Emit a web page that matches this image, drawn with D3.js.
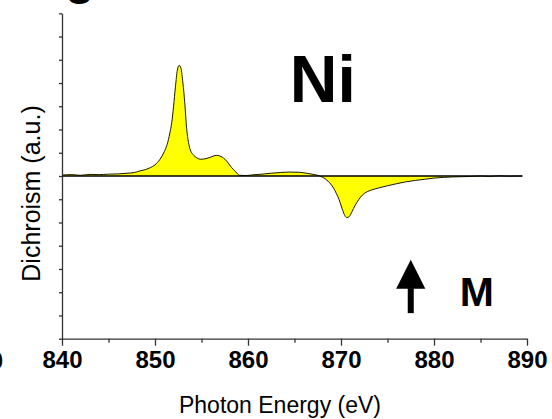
<!DOCTYPE html>
<html>
<head>
<meta charset="utf-8">
<script src="https://cdn.jsdelivr.net/npm/d3@7"></script>
<style>
  body { margin: 0; background: #fff; }
  svg { display: block; font-family: "Liberation Sans", Arial, sans-serif; }
</style>
</head>
<body>
<svg id="chart"></svg>
<script>
// photon energy (eV) and XMCD dichroism (a.u.)
const energy = [840.0, 841.0, 842.0, 843.0, 844.0, 845.0, 846.0, 847.0, 847.8, 848.4,
    849.0, 849.5, 850.0, 850.5, 851.0, 851.3, 851.6, 851.8, 852.0, 852.2,
    852.4, 852.6, 852.8, 853.0, 853.2, 853.4, 853.6, 853.8, 854.1, 854.5,
    854.9, 855.5, 856.1, 856.6, 857.1, 857.7, 858.2, 858.7, 859.1, 859.8,
    860.5, 861.5, 862.5, 863.5, 864.5, 865.5, 866.3, 867.0, 867.5, 867.9,
    868.3, 868.6, 868.9, 869.2, 869.5, 869.8, 870.1, 870.35, 870.6, 870.9,
    871.2, 871.5, 871.9, 872.3, 872.8, 873.3, 874.0, 875.0, 876.0, 877.0,
    878.0, 879.0, 880.0, 881.0, 882.0, 883.0, 884.0, 885.0, 886.0, 887.0,
    888.0, 889.5];
const dichroism = [0.04, 0.06, 0.03, 0.07, 0.06, 0.08, 0.09, 0.12, 0.15, 0.22,
    0.28, 0.36, 0.48, 0.70, 1.05, 1.35, 1.85, 2.30, 3.00, 3.85,
    4.55, 4.76, 4.62, 4.00, 3.15, 2.05, 1.45, 1.12, 0.92, 0.78,
    0.72, 0.75, 0.83, 0.89, 0.84, 0.65, 0.38, 0.17, 0.03, 0.02,
    0.05, 0.08, 0.12, 0.15, 0.17, 0.16, 0.12, 0.07, 0.03, -0.03,
    -0.12, -0.22, -0.35, -0.52, -0.75, -1.02, -1.38, -1.65, -1.79, -1.74,
    -1.52, -1.28, -1.02, -0.82, -0.68, -0.60, -0.52, -0.42, -0.33, -0.25,
    -0.19, -0.14, -0.09, -0.06, -0.04, -0.03, -0.02, 0.00, -0.02, 0.01,
    -0.01, 0.00];
const xTicks = [840, 850, 860, 870, 880, 890];
const xMinorTicks = [845, 855, 865, 875, 885];
const yTicks = d3.range(-7, 8, 1);

const width = 552;
const height = 419;
const margin = { top: 13.3, right: 25, bottom: 80.3, left: 62 };

const data = energy.map((e, i) => ({ e: e, v: dichroism[i] }));

const x = d3.scaleLinear().domain([840, 890]).range([margin.left, width - margin.right]);
const y = d3.scaleLinear().domain([-7, 7]).range([height - margin.bottom, margin.top]);

const svg = d3.select('#chart').attr('width', width).attr('height', height);

// filled dichroism signal
svg.append('path')
    .datum(data)
    .attr('fill', '#ffff00')
    .attr('d', d3.area().x(d => x(d.e)).y0(y(0)).y1(d => y(d.v)).curve(d3.curveMonotoneX));

svg.append('path')
    .datum(data)
    .attr('fill', 'none')
    .attr('stroke', '#1a1a00')
    .attr('stroke-width', 1)
    .attr('d', d3.line().x(d => x(d.e)).y(d => y(d.v)).curve(d3.curveMonotoneX));

// zero line
svg.append('line')
    .attr('x1', x(840)).attr('x2', x(energy[energy.length - 1]))
    .attr('y1', y(0)).attr('y2', y(0))
    .attr('stroke', '#000').attr('stroke-width', 1.5);

// axes
const xAxis = svg.append('g')
    .attr('transform', `translate(0, ${y(-7)})`)
    .call(d3.axisBottom(x).tickValues(xTicks).tickSize(7).tickSizeOuter(0).tickPadding(5));
xAxis.append('g')
    .call(d3.axisBottom(x).tickValues(xMinorTicks).tickSize(4).tickFormat(''))
    .select('.domain').remove();
xAxis.selectAll('text')
    .attr('font-family', '"Liberation Sans", Arial, sans-serif')
    .attr('font-size', 24).attr('font-weight', 'bold').attr('fill', '#000');

const yAxis = svg.append('g')
    .attr('transform', `translate(${margin.left}, 0)`)
    .call(d3.axisLeft(y).tickValues(yTicks).tickSize(3).tickSizeOuter(0).tickFormat(''));

svg.selectAll('.domain, .tick line').attr('stroke', '#333').attr('stroke-width', 1.3);

// clipped label from the neighbouring panel
svg.append('text')
    .attr('x', -17).attr('y', y(-7) + 30)
    .attr('text-anchor', 'middle')
    .attr('font-size', 24).attr('font-weight', 'bold')
    .text('890');

svg.append('text')
    .attr('x', 80).attr('y', -6)
    .attr('text-anchor', 'middle')
    .attr('font-size', 48).attr('font-weight', 'bold')
    .text('g');

// axis titles
svg.append('text')
    .attr('x', 280).attr('y', 413)
    .attr('text-anchor', 'middle')
    .attr('font-size', 23)
    .text('Photon Energy (eV)');

svg.append('text')
    .attr('transform', `translate(40, 193.5) rotate(-90)`)
    .attr('text-anchor', 'middle')
    .attr('font-size', 25)
    .text('Dichroism (a.u.)');

// annotations
svg.append('text')
    .attr('x', x(864.5)).attr('y', y(3.2))
    .attr('font-size', 66).attr('font-weight', 'bold')
    .text('Ni');

svg.append('text')
    .attr('x', x(882.77)).attr('y', y(-5.59))
    .attr('font-size', 41).attr('font-weight', 'bold')
    .text('M');

const ax = x(877.5);
svg.append('path')
    .attr('d', `M${ax},${y(-3.6)} L${ax + 14.6},${y(-4.85)} L${ax - 14.6},${y(-4.85)} Z`)
    .attr('fill', '#000');
svg.append('rect')
    .attr('x', ax - 3).attr('y', y(-4.85) - 0.5)
    .attr('width', 6).attr('height', y(-5.9) - y(-4.85) + 0.5)
    .attr('fill', '#000');
</script>
</body>
</html>
